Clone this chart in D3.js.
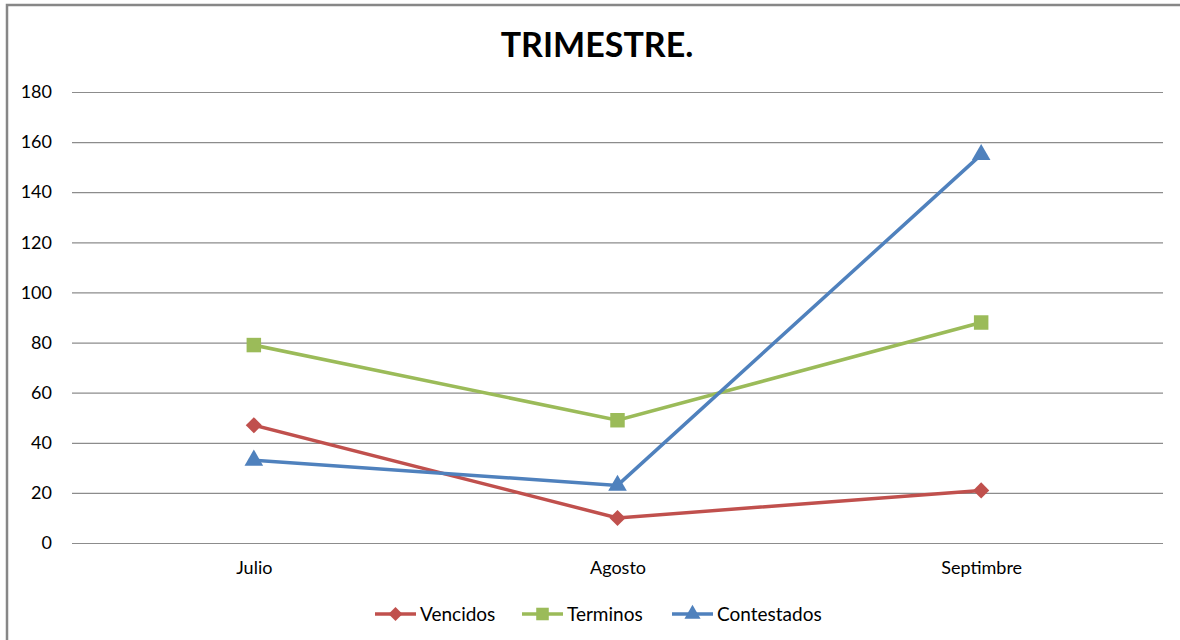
<!DOCTYPE html>
<html>
<head>
<meta http-equiv="content-type" content="text/html; charset=UTF8">
<script src="https://cdn.jsdelivr.net/npm/d3@7/dist/d3.min.js"></script>
<style>
body { margin: 0; background: #fff; }
svg { font-family: Lato, "Open Sans", sans-serif; }
</style>
</head>
<body>
<svg class="chart" width="1180" height="640"></svg>
<script>
var months = ["Julio", "Agosto", "Septimbre"];
var vencidos = [47, 10, 21];
var terminos = [79, 49, 88];
var contestados = [33, 23, 155];
var yTicks = [0, 20, 40, 60, 80, 100, 120, 140, 160, 180];

// diamond drawn as a square turned 45 degrees, like the spreadsheet marker
var series = [
	{name: "Vencidos", values: vencidos, color: "#C0504D", marker: d3.symbolSquare, size: 130, rot: 45},
	{name: "Terminos", values: terminos, color: "#9BBB59", marker: d3.symbolSquare, size: 210, rot: 0},
	{name: "Contestados", values: contestados, color: "#4F81BD", marker: d3.symbolTriangle, size: 150, rot: 0}
];

var plotLeft = 72, plotRight = 1163, plotTop = 92, plotBottom = 543;

var svg = d3.select(".chart");

// outer frame
svg.append("rect")
	.attr("x", 7).attr("y", 5)
	.attr("width", 1190).attr("height", 650)
	.attr("fill", "none")
	.attr("stroke", "#878787")
	.attr("stroke-width", 2.5);

svg.append("text")
	.attr("x", 597).attr("y", 57)
	.attr("text-anchor", "middle")
	.style("font-size", "34px")
	.style("font-weight", "bold")
	.attr("fill", "#000")
	.text("TRIMESTRE.");

var x = d3.scalePoint().domain(months).range([plotLeft, plotRight]).padding(0.5);
var y = d3.scaleLinear().domain([0, 180]).range([plotBottom, plotTop]);

var yAxis = svg.append("g")
	.attr("transform", "translate(" + plotLeft + ",0)")
	.call(d3.axisLeft(y).tickValues(yTicks).tickSize(-(plotRight - plotLeft)));
yAxis.select(".domain").remove();
yAxis.selectAll("line").attr("stroke", "#8c8c8c").attr("stroke-width", 1.2);
yAxis.selectAll("text")
	.attr("x", -20)
	.style("font-size", "18px")
	.style("font-family", "Lato, 'Open Sans', sans-serif")
	.attr("fill", "#000");

var xAxis = svg.append("g")
	.attr("transform", "translate(0," + plotBottom + ")")
	.call(d3.axisBottom(x).tickSize(0).tickPadding(18));
xAxis.select(".domain").remove();
xAxis.selectAll("text")
	.style("font-size", "18px")
	.style("font-family", "Lato, 'Open Sans', sans-serif")
	.attr("fill", "#000");

var line = d3.line()
	.x(function(d, i) { return x(months[i]); })
	.y(function(d) { return y(d); });

var groups = svg.selectAll(".series")
	.data(series)
	.enter()
	.append("g")
	.attr("class", "series");

groups.append("path")
	.attr("d", function(d) { return line(d.values); })
	.attr("fill", "none")
	.attr("stroke", function(d) { return d.color; })
	.attr("stroke-width", 3.5);

groups.each(function(s) {
	d3.select(this).selectAll("path.mk")
		.data(s.values)
		.enter()
		.append("path")
		.attr("class", "mk")
		.attr("d", d3.symbol().type(s.marker).size(s.size))
		.attr("transform", function(d, i) {
			return "translate(" + x(months[i]) + "," + y(d) + ") rotate(" + s.rot + ")";
		})
		.attr("fill", s.color);
});

// legend
var legendX = [375, 522, 672];
var legend = svg.selectAll(".legend")
	.data(series)
	.enter()
	.append("g")
	.attr("transform", function(d, i) { return "translate(" + legendX[i] + ",614)"; });

legend.append("line")
	.attr("x1", 0).attr("x2", 41)
	.attr("stroke", function(d) { return d.color; })
	.attr("stroke-width", 3.5);
legend.append("path")
	.attr("d", function(d) { return d3.symbol().type(d.marker).size(d.size * 0.75)(); })
	.attr("transform", function(d) { return "translate(20.5,0) rotate(" + d.rot + ")"; })
	.attr("fill", function(d) { return d.color; });
legend.append("text")
	.attr("x", 45)
	.attr("dy", "0.35em")
	.style("font-size", "19px")
	.attr("fill", "#000")
	.text(function(d) { return d.name; });
</script>
</body>
</html>
